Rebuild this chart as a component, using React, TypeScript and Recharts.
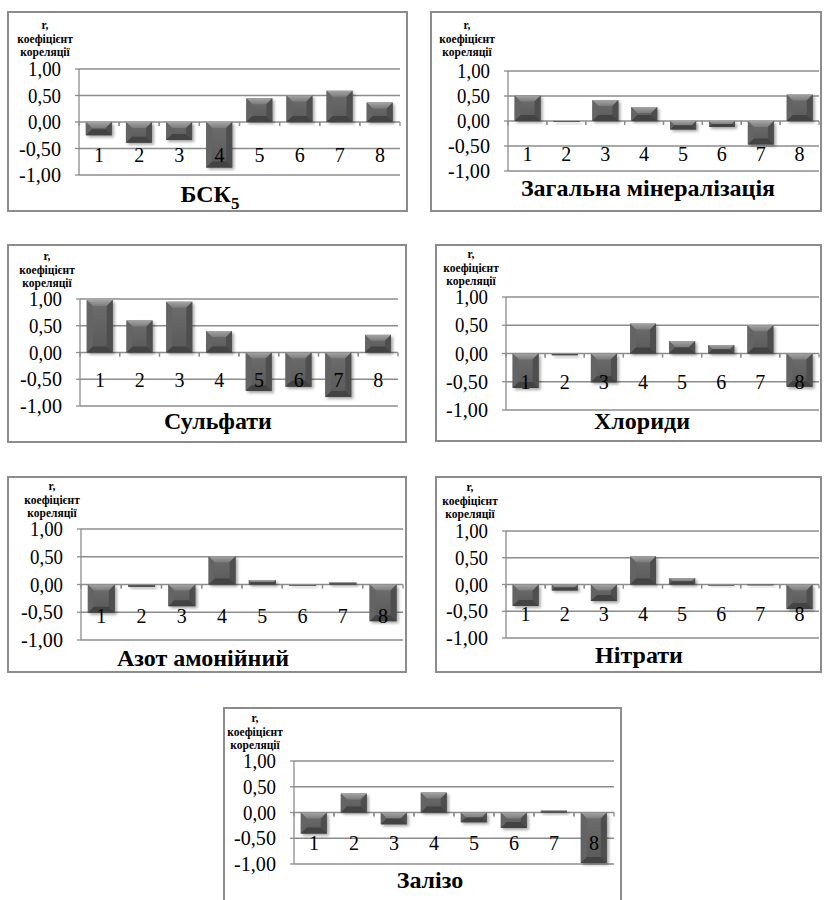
import React from 'react';
import { BarChart, Bar, XAxis, YAxis, CartesianGrid } from 'recharts';

// station numbers along the x axis
const stations = [1, 2, 3, 4, 5, 6, 7, 8];
const yTicks = [-1, -0.5, 0, 0.5, 1];

// correlation coefficients
const bsk5 = [-0.25, -0.39, -0.34, -0.86, 0.45, 0.5, 0.59, 0.37];
const mineralization = [0.51, -0.02, 0.42, 0.28, -0.17, -0.12, -0.47, 0.53];
const sulfates = [0.98, 0.6, 0.95, 0.4, -0.72, -0.64, -0.83, 0.33];
const chlorides = [-0.61, -0.03, -0.51, 0.53, 0.22, 0.15, 0.5, -0.59];
const ammonium = [-0.51, -0.04, -0.39, 0.51, 0.08, -0.02, 0.04, -0.66];
const nitrates = [-0.4, -0.11, -0.31, 0.53, 0.12, -0.01, 0.005, -0.46];
const iron = [-0.41, 0.37, -0.23, 0.39, -0.19, -0.3, 0.04, -0.98];

const GRID = '#8c8c8c';
const SERIF = '"Liberation Serif", "Times New Roman", serif';
const TICK_FONT = 20;

type Rect = { x: number; y: number; w: number; h: number };

interface PanelDef {
  key: string;
  values: number[];
  title: React.ReactNode;
  frame: Rect;
  plot: Rect;
  label: { cx: number; cy: number };
  titlePos: { cx: number; cy: number };
  tickOff: number;
}

const panels: PanelDef[] = [
  {
    key: 'bsk', values: bsk5,
    title: <>БСК<span style={{ fontSize: 17, position: 'relative', top: 7 }}>5</span></>,
    frame: { x: 7, y: 11, w: 401, h: 201 }, plot: { x: 79, y: 69, w: 321, h: 106 },
    label: { cx: 45, cy: 25 }, titlePos: { cx: 210, cy: 194 }, tickOff: 33,
  },
  {
    key: 'min', values: mineralization, title: 'Загальна мінералізація',
    frame: { x: 430, y: 11, w: 392, h: 201 }, plot: { x: 508, y: 71, w: 311, h: 100 },
    label: { cx: 467, cy: 25 }, titlePos: { cx: 648, cy: 188 }, tickOff: 33,
  },
  {
    key: 'sul', values: sulfates, title: 'Сульфати',
    frame: { x: 7, y: 244, w: 400, h: 199 }, plot: { x: 80, y: 299, w: 318, h: 107 },
    label: { cx: 47, cy: 256 }, titlePos: { cx: 218, cy: 421 }, tickOff: 27,
  },
  {
    key: 'chl', values: chlorides, title: 'Хлориди',
    frame: { x: 435, y: 244, w: 387, h: 198 }, plot: { x: 506, y: 297, w: 313, h: 113 },
    label: { cx: 471, cy: 254 }, titlePos: { cx: 642, cy: 421 }, tickOff: 28,
  },
  {
    key: 'amm', values: ammonium, title: 'Азот амонійний',
    frame: { x: 7, y: 476, w: 400, h: 197 }, plot: { x: 81, y: 529, w: 322, h: 111 },
    label: { cx: 52, cy: 486 }, titlePos: { cx: 203, cy: 658 }, tickOff: 31,
  },
  {
    key: 'nit', values: nitrates, title: 'Нітрати',
    frame: { x: 435, y: 476, w: 387, h: 197 }, plot: { x: 506, y: 531, w: 313, h: 107 },
    label: { cx: 470, cy: 487 }, titlePos: { cx: 639, cy: 655 }, tickOff: 29,
  },
  {
    key: 'fe', values: iron, title: 'Залізо',
    frame: { x: 223, y: 707, w: 399, h: 200 }, plot: { x: 294, y: 761, w: 320, h: 103 },
    label: { cx: 255, cy: 718 }, titlePos: { cx: 430, cy: 880 }, tickOff: 30,
  },
];

const fmt = (v: number) => v.toFixed(2).replace('.', ',');

// Excel-style bevelled bar
function BevelBar(props: any) {
  const { x, y, width, height } = props;
  if (x == null || width == null || height == null) return null;
  const top = Math.min(y, y + height);
  const h = Math.max(Math.abs(height), 1);
  const w = width;
  const bot = top + h;
  const b = Math.min(6, w / 2, h / 2);
  return (
    <g>
      <rect x={x + 2} y={top + 2} width={w} height={h} fill="#000" opacity={0.35} filter="url(#barShadow)" />
      <rect x={x} y={top} width={w} height={h} fill="url(#barFace)" />
      <polygon points={`${x},${top} ${x + w},${top} ${x + w - b},${top + b} ${x + b},${top + b}`} fill="url(#barTop)" />
      <polygon points={`${x},${top} ${x + b},${top + b} ${x + b},${bot - b} ${x},${bot}`} fill="#646464" />
      <polygon points={`${x + w},${top} ${x + w - b},${top + b} ${x + w - b},${bot - b} ${x + w},${bot}`} fill="#4e4e4e" />
      <polygon points={`${x},${bot} ${x + b},${bot - b} ${x + w - b},${bot - b} ${x + w},${bot}`} fill="#434343" />
    </g>
  );
}

function XTick(props: any) {
  const { x, payload, zeroY, bw, off } = props;
  return (
    <g>
      <line x1={x - bw / 2} x2={x - bw / 2} y1={zeroY} y2={zeroY + 4} stroke={GRID} strokeWidth={1.3} />
      <line x1={x + bw / 2} x2={x + bw / 2} y1={zeroY} y2={zeroY + 4} stroke={GRID} strokeWidth={1.3} />
      <text x={x} y={zeroY + off} textAnchor="middle" dominantBaseline="central"
        fontFamily={SERIF} fontSize={TICK_FONT} fill="#000">{payload.value}</text>
    </g>
  );
}

function YTick(props: any) {
  const { x, y, payload } = props;
  const v = payload.value as number;
  // label widths as set in the reference (minus sign adds ~9px)
  const len = v < 0 ? 42 : 33;
  return (
    <text x={x} y={y} textAnchor="end" dominantBaseline="central" textLength={len}
      lengthAdjust="spacingAndGlyphs" fontFamily={SERIF} fontSize={TICK_FONT} fill="#000">{fmt(v)}</text>
  );
}

function Panel({ p }: { p: PanelDef }) {
  const { frame, plot } = p;
  const data = stations.map((n, i) => ({ n, r: p.values[i] }));
  const top = plot.y - frame.y;
  const axisH = 1;
  const bottom = frame.h - top - plot.h - axisH;
  const right = frame.w - (plot.x - frame.x) - plot.w;
  const zeroY = top + plot.h / 2;
  const bw = plot.w / stations.length;
  return (
    <>
      <div style={{
        position: 'absolute', left: frame.x, top: frame.y, width: frame.w, height: frame.h,
        border: `2px solid ${GRID}`, boxSizing: 'border-box', background: '#fff',
      }} />
      <div style={{ position: 'absolute', left: frame.x, top: frame.y }}>
        <BarChart width={frame.w} height={frame.h} data={data}
          margin={{ top, right, bottom, left: 0 }} barCategoryGap="17%">
          <CartesianGrid vertical={false} stroke={GRID} strokeWidth={1.3} />
          <YAxis domain={[-1, 1]} ticks={yTicks} width={plot.x - frame.x}
            axisLine={{ stroke: GRID, strokeWidth: 1.3 }} tickLine={{ stroke: GRID, strokeWidth: 1.3 }}
            tickSize={4} tickMargin={14} interval={0} tick={(tp: any) => <YTick {...tp} />} />
          <XAxis dataKey="n" height={axisH} axisLine={false} tickLine={false} interval={0}
            tick={(tp: any) => <XTick {...tp} zeroY={zeroY} bw={bw} off={p.tickOff} />} />
          <Bar dataKey="r" isAnimationActive={false} shape={(bp: any) => <BevelBar {...bp} />} />
        </BarChart>
      </div>
      <div style={{
        position: 'absolute', left: p.label.cx - 50, top: p.label.cy - 6, width: 100,
        textAlign: 'center', fontFamily: SERIF, fontWeight: 'bold', fontSize: 11.5, lineHeight: '13.5px',
      }}>
        r,<br />коефіцієнт<br />кореляції
      </div>
      <div style={{
        position: 'absolute', left: p.titlePos.cx - 200, top: p.titlePos.cy - 15, width: 400,
        textAlign: 'center', fontFamily: SERIF, fontWeight: 'bold', fontSize: 24, lineHeight: '30px',
        whiteSpace: 'nowrap',
      }}>
        {p.title}
      </div>
    </>
  );
}

export default function App() {
  return (
    <div style={{ position: 'absolute', left: 0, top: 0, width: 824, height: 900, background: '#fff', overflow: 'hidden' }}>
      <svg width={0} height={0} style={{ position: 'absolute' }}>
        <defs>
          <filter id="barShadow" x="-50%" y="-50%" width="200%" height="200%">
            <feGaussianBlur stdDeviation="1.6" />
          </filter>
          <linearGradient id="barFace" x1="0" y1="0" x2="0" y2="1">
            <stop offset="0%" stopColor="#6e6e6e" />
            <stop offset="100%" stopColor="#585858" />
          </linearGradient>
          <linearGradient id="barTop" x1="0" y1="0" x2="0" y2="1">
            <stop offset="0%" stopColor="#a4a4a4" />
            <stop offset="100%" stopColor="#7c7c7c" />
          </linearGradient>
        </defs>
      </svg>
      {panels.map(p => <Panel key={p.key} p={p} />)}
    </div>
  );
}
